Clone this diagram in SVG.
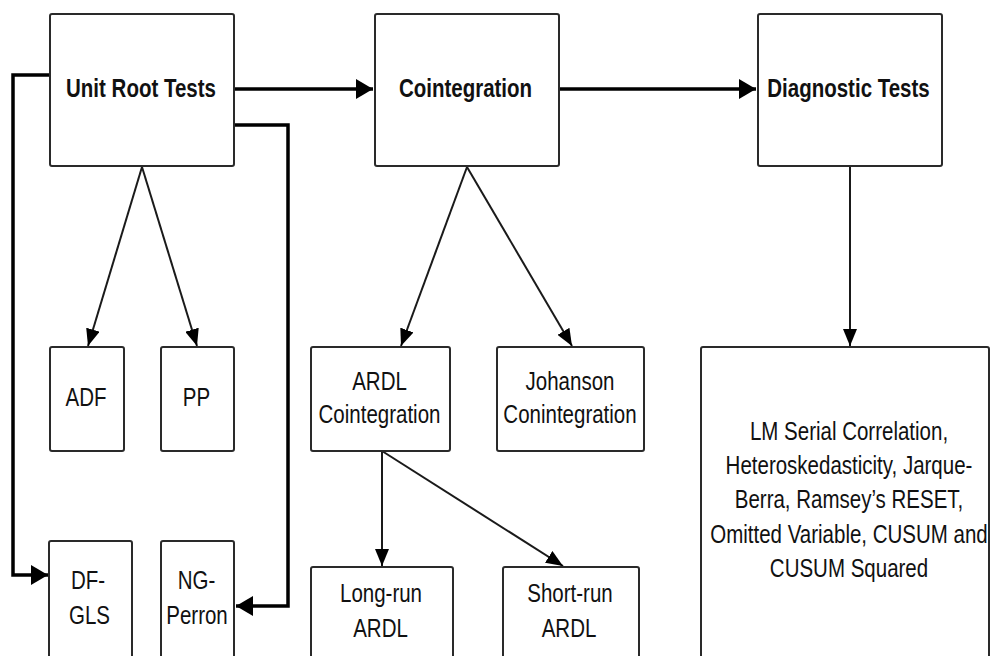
<svg xmlns="http://www.w3.org/2000/svg" width="992" height="656" viewBox="0 0 992 656">
<defs>
<style>
.box{fill:#fff;stroke:#2a2a2a;stroke-width:2}
.t{font-family:"Liberation Sans",Arial,sans-serif;font-size:20.5px;fill:#111;text-anchor:middle}
.b{font-weight:bold}
.thick{fill:none;stroke:#000;stroke-width:3.5}
.thin{fill:none;stroke:#1a1a1a;stroke-width:2}
</style>
<marker id="ah" markerUnits="userSpaceOnUse" markerWidth="18" markerHeight="20" refX="17" refY="10" orient="auto">
<path d="M0,0 L17,10 L0,20 z" fill="#000"/>
</marker>
<marker id="as" markerUnits="userSpaceOnUse" markerWidth="18" markerHeight="14" refX="17" refY="7" orient="auto">
<path d="M0,0 L17,7 L0,14 z" fill="#000"/>
</marker>
</defs>
<rect width="992" height="656" fill="#fff"/>
<g id="connectors">
<path class="thick" d="M234,89 H373" marker-end="url(#ah)"/>
<path class="thick" d="M559,89 H756" marker-end="url(#ah)"/>
<path class="thick" d="M50,75 H13 V575 H48" marker-end="url(#ah)"/>
<path class="thick" d="M234,125 H288 V606 H236" marker-end="url(#ah)"/>
<path class="thin" d="M142,167 L88,346" marker-end="url(#as)"/>
<path class="thin" d="M142,167 L197,346" marker-end="url(#as)"/>
<path class="thin" d="M467,167 L401,346" marker-end="url(#as)"/>
<path class="thin" d="M467,167 L572,346" marker-end="url(#as)"/>
<path class="thin" d="M850,166 V346" marker-end="url(#as)"/>
<path class="thin" d="M382,451 V566" marker-end="url(#as)"/>
<path class="thin" d="M382,451 L563,566" marker-end="url(#as)"/>
</g>
<g id="unit-root">
<rect class="box" x="50" y="14" width="184" height="152" rx="2"/>
<text class="t b" transform="translate(141,97) scale(1,1.3)">Unit Root Tests</text>
</g>
<g id="cointegration">
<rect class="box" x="375" y="14" width="184" height="152" rx="2"/>
<text class="t b" transform="translate(465.5,97) scale(1,1.3)">Cointegration</text>
</g>
<g id="diagnostic">
<rect class="box" x="758" y="14" width="184" height="152" rx="2"/>
<text class="t b" transform="translate(848.5,97) scale(1,1.3)">Diagnostic Tests</text>
</g>
<g id="adf">
<rect class="box" x="50" y="347" width="74" height="104" rx="2"/>
<text class="t" transform="translate(86,406) scale(1,1.3)">ADF</text>
</g>
<g id="pp">
<rect class="box" x="161" y="347" width="73" height="104" rx="2"/>
<text class="t" transform="translate(196.5,406) scale(1,1.3)">PP</text>
</g>
<g id="dfgls">
<rect class="box" x="49" y="541" width="83" height="125" rx="2"/>
<text class="t" transform="translate(88,589) scale(1,1.3)">DF-</text>
<text class="t" transform="translate(89.5,624) scale(1,1.3)">GLS</text>
</g>
<g id="ngperron">
<rect class="box" x="161" y="541" width="73" height="125" rx="2"/>
<text class="t" transform="translate(196.5,589) scale(1,1.3)">NG-</text>
<text class="t" transform="translate(197,624) scale(1,1.3)">Perron</text>
</g>
<g id="ardl">
<rect class="box" x="311" y="347" width="139" height="104" rx="2"/>
<text class="t" transform="translate(379.5,390) scale(1,1.3)">ARDL</text>
<text class="t" transform="translate(379.5,423) scale(1,1.3)">Cointegration</text>
</g>
<g id="johanson">
<rect class="box" x="497" y="347" width="147" height="104" rx="2"/>
<text class="t" transform="translate(570,390) scale(1,1.3)">Johanson</text>
<text class="t" transform="translate(570,423) scale(1,1.3)">Conintegration</text>
</g>
<g id="longrun">
<rect class="box" x="311" y="567" width="142" height="100" rx="2"/>
<text class="t" transform="translate(381,602) scale(1,1.3)">Long-run</text>
<text class="t" transform="translate(380.5,637) scale(1,1.3)">ARDL</text>
</g>
<g id="shortrun">
<rect class="box" x="503" y="567" width="136" height="100" rx="2"/>
<text class="t" transform="translate(570,602) scale(1,1.3)">Short-run</text>
<text class="t" transform="translate(569,637) scale(1,1.3)">ARDL</text>
</g>
<g id="diag-list">
<rect class="box" x="701" y="347" width="288" height="320" rx="2"/>
<text class="t" transform="translate(849,440) scale(1,1.3)">LM Serial Correlation,</text>
<text class="t" transform="translate(849,474) scale(1,1.3)">Heteroskedasticity, Jarque-</text>
<text class="t" transform="translate(849,508) scale(1,1.3)">Berra, Ramsey’s RESET,</text>
<text class="t" transform="translate(849,543) scale(1,1.3)">Omitted Variable, CUSUM and</text>
<text class="t" transform="translate(849,577) scale(1,1.3)">CUSUM Squared</text>
</g>
</svg>
